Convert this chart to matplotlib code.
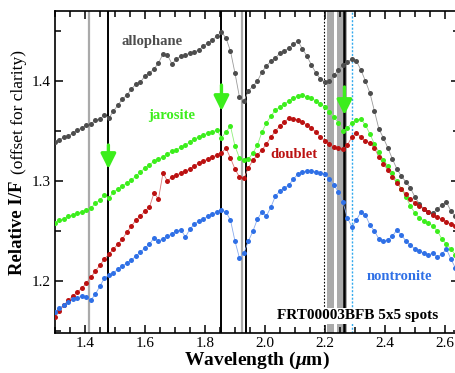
import numpy as np
import matplotlib
matplotlib.use("Agg")
import matplotlib.pyplot as plt
from matplotlib.ticker import MultipleLocator

plt.rcParams['font.family'] = ['Liberation Serif', 'DejaVu Serif']
plt.rcParams['mathtext.fontset'] = 'custom'
plt.rcParams['mathtext.it'] = 'Liberation Serif:italic:bold'
plt.rcParams['mathtext.rm'] = 'Liberation Serif:bold'

# wavelength grid (um)
wl = np.round(1.300 + 0.015 * np.arange(90), 3)

allophane = [1.339, 1.341, 1.344, 1.345, 1.348, 1.351, 1.353, 1.356, 1.357, 1.361,
             1.362, 1.366, 1.363, 1.370, 1.376, 1.382, 1.386, 1.392, 1.397, 1.399,
             1.405, 1.408, 1.412, 1.418, 1.427, 1.426, 1.417, 1.422, 1.425, 1.426,
             1.428, 1.429, 1.431, 1.435, 1.438, 1.441, 1.445, 1.449, 1.443, 1.430,
             1.408, 1.384, 1.380, 1.390, 1.395, 1.400, 1.409, 1.415, 1.420, 1.423,
             1.428, 1.430, 1.433, 1.437, 1.440, 1.432, 1.425, 1.416, 1.408, 1.402,
             1.399, 1.400, 1.406, 1.411, 1.416, 1.419, 1.422, 1.420, 1.411, 1.400,
             1.388, 1.370, 1.352, 1.343, 1.333, 1.322, 1.312, 1.305, 1.299, 1.293,
             1.284, 1.277, 1.272, 1.269, 1.268, 1.272, 1.276, 1.279, 1.270, 1.265]

jarosite = [1.258, 1.261, 1.262, 1.265, 1.266, 1.268, 1.269, 1.271, 1.273, 1.278,
            1.281, 1.286, 1.283, 1.289, 1.292, 1.295, 1.298, 1.301, 1.305, 1.309,
            1.313, 1.316, 1.320, 1.322, 1.324, 1.327, 1.330, 1.331, 1.334, 1.336,
            1.339, 1.342, 1.344, 1.346, 1.348, 1.349, 1.351, 1.343, 1.349, 1.355,
            1.335, 1.323, 1.321, 1.322, 1.328, 1.336, 1.349, 1.358, 1.365, 1.371,
            1.374, 1.377, 1.380, 1.383, 1.385, 1.386, 1.384, 1.383, 1.380, 1.377,
            1.374, 1.369, 1.364, 1.358, 1.350, 1.353, 1.358, 1.361, 1.362, 1.356,
            1.347, 1.337, 1.329, 1.321, 1.315, 1.308, 1.300, 1.292, 1.284, 1.275,
            1.268, 1.263, 1.260, 1.258, 1.255, 1.250, 1.242, 1.237, 1.232, 1.226]

doublet = [1.164, 1.170, 1.176, 1.181, 1.185, 1.189, 1.193, 1.198, 1.204, 1.210,
           1.216, 1.222, 1.227, 1.232, 1.237, 1.242, 1.249, 1.255, 1.261, 1.265,
           1.270, 1.274, 1.288, 1.282, 1.308, 1.300, 1.304, 1.306, 1.308, 1.310,
           1.312, 1.315, 1.318, 1.320, 1.322, 1.324, 1.326, 1.328, 1.333, 1.323,
           1.312, 1.304, 1.303, 1.313, 1.321, 1.326, 1.331, 1.337, 1.344, 1.350,
           1.355, 1.359, 1.363, 1.362, 1.361, 1.359, 1.356, 1.353, 1.349, 1.344,
           1.340, 1.337, 1.334, 1.333, 1.332, 1.336, 1.344, 1.348, 1.344, 1.340,
           1.338, 1.333, 1.324, 1.317, 1.311, 1.304, 1.298, 1.292, 1.287, 1.282,
           1.278, 1.275, 1.272, 1.269, 1.266, 1.264, 1.262, 1.259, 1.257, 1.255]

nontronite = [1.169, 1.173, 1.176, 1.179, 1.182, 1.183, 1.185, 1.184, 1.181, 1.187,
              1.195, 1.203, 1.206, 1.208, 1.212, 1.215, 1.218, 1.221, 1.225, 1.229,
              1.233, 1.237, 1.243, 1.240, 1.242, 1.245, 1.247, 1.250, 1.251, 1.244,
              1.252, 1.257, 1.260, 1.262, 1.265, 1.267, 1.269, 1.271, 1.269, 1.261,
              1.240, 1.223, 1.228, 1.240, 1.250, 1.262, 1.269, 1.265, 1.274, 1.285,
              1.290, 1.293, 1.296, 1.302, 1.307, 1.309, 1.310, 1.310, 1.309, 1.308,
              1.307, 1.302, 1.296, 1.289, 1.279, 1.263, 1.254, 1.261, 1.269, 1.266,
              1.256, 1.250, 1.242, 1.240, 1.241, 1.245, 1.251, 1.246, 1.240, 1.236,
              1.232, 1.230, 1.228, 1.226, 1.228, 1.224, 1.227, 1.232, 1.222, 1.213]

series = [
    ("allophane", allophane, "#4d4d4d", "#9a9a9a", (1.622, 1.439)),
    ("jarosite", jarosite, "#3cee1c", "#8ff07a", (1.690, 1.366)),
    ("doublet", doublet, "#bb1111", "#dd7777", (2.097, 1.326)),
    ("nontronite", nontronite, "#2f70e6", "#88aaee", (2.447, 1.204)),
]

# band positions (um)
gray_lines = [1.415, 1.922]
black_lines = [1.478, 1.855, 1.937]
gray_bands = [(2.208, 2.230), (2.240, 2.272)]
arrows_x = [1.478, 1.855, 2.265]
arrows_y = [(1.336, 1.312), (1.396, 1.370), (1.394, 1.366)]

fig = plt.figure(figsize=(4.56, 3.73), dpi=100)
ax = fig.add_axes([55 / 456, 40 / 373, 404 / 456, 322 / 373])

for x in gray_lines:
    ax.axvline(x, color="#aaaaaa", lw=1.6, zorder=1)
for a, b in gray_bands:
    ax.axvspan(a, b, color="#aaaaaa", lw=0, zorder=1)
ax.axvline(2.265, color="black", lw=1.8, zorder=1)
for x in black_lines:
    ax.axvline(x, color="black", lw=1.4, zorder=1)
ax.axvline(2.197, color="black", lw=0.8, ls=(0, (1.5, 1.5)), zorder=1)
ax.axvline(2.290, color="#33aaee", lw=1.0, ls=(0, (1.5, 1.2)), zorder=1)

for name, vals, c, lc, pos in series:
    ax.plot(wl, vals, "-", color=lc, lw=0.6, zorder=2)
    ax.plot(wl, vals, "o", color=c, ms=3.6, mec="none", zorder=3)
    ax.text(pos[0], pos[1], name, color=c, fontsize=10.5, fontweight="bold",
            ha="center", va="center", zorder=4)

for x, (y0, y1) in zip(arrows_x, arrows_y):
    ax.annotate("", xy=(x, y1), xytext=(x, y0),
                arrowprops=dict(arrowstyle="-|>,head_length=0.9,head_width=0.45",
                                color="#3cee1c", lw=2.4, shrinkA=0, shrinkB=0),
                zorder=5)

ax.text(2.31, 1.165, "FRT00003BFB 5x5 spots", fontsize=11, fontweight="bold",
        ha="center", va="center", zorder=4,
        bbox=dict(facecolor="white", edgecolor="none", pad=1.0))

ax.set_xlim(1.3, 2.647)
ax.set_ylim(1.148, 1.47)
ax.xaxis.set_major_locator(MultipleLocator(0.2))
ax.xaxis.set_minor_locator(MultipleLocator(0.05))
ax.yaxis.set_major_locator(MultipleLocator(0.1))
ax.yaxis.set_minor_locator(MultipleLocator(0.05))
ax.tick_params(which="both", direction="in", top=True, right=True, width=1.1,
               labelsize=11, pad=3)
ax.tick_params(which="major", length=6)
ax.tick_params(which="minor", length=4)
for sp in ax.spines.values():
    sp.set_linewidth(1.2)

ax.set_xlabel(r"Wavelength ($\mathit{\mu}$m)", fontsize=14, fontweight="bold", labelpad=0)

fig.text(18 / 456, 98 / 373, "Relative I/F", rotation=90, fontsize=13.5,
         fontweight="bold", ha="center", va="bottom")
fig.text(19 / 456, 199 / 373, "(offset for clarity)", rotation=90, fontsize=12.5,
         ha="center", va="bottom")

fig.savefig("out.png", dpi=100)
